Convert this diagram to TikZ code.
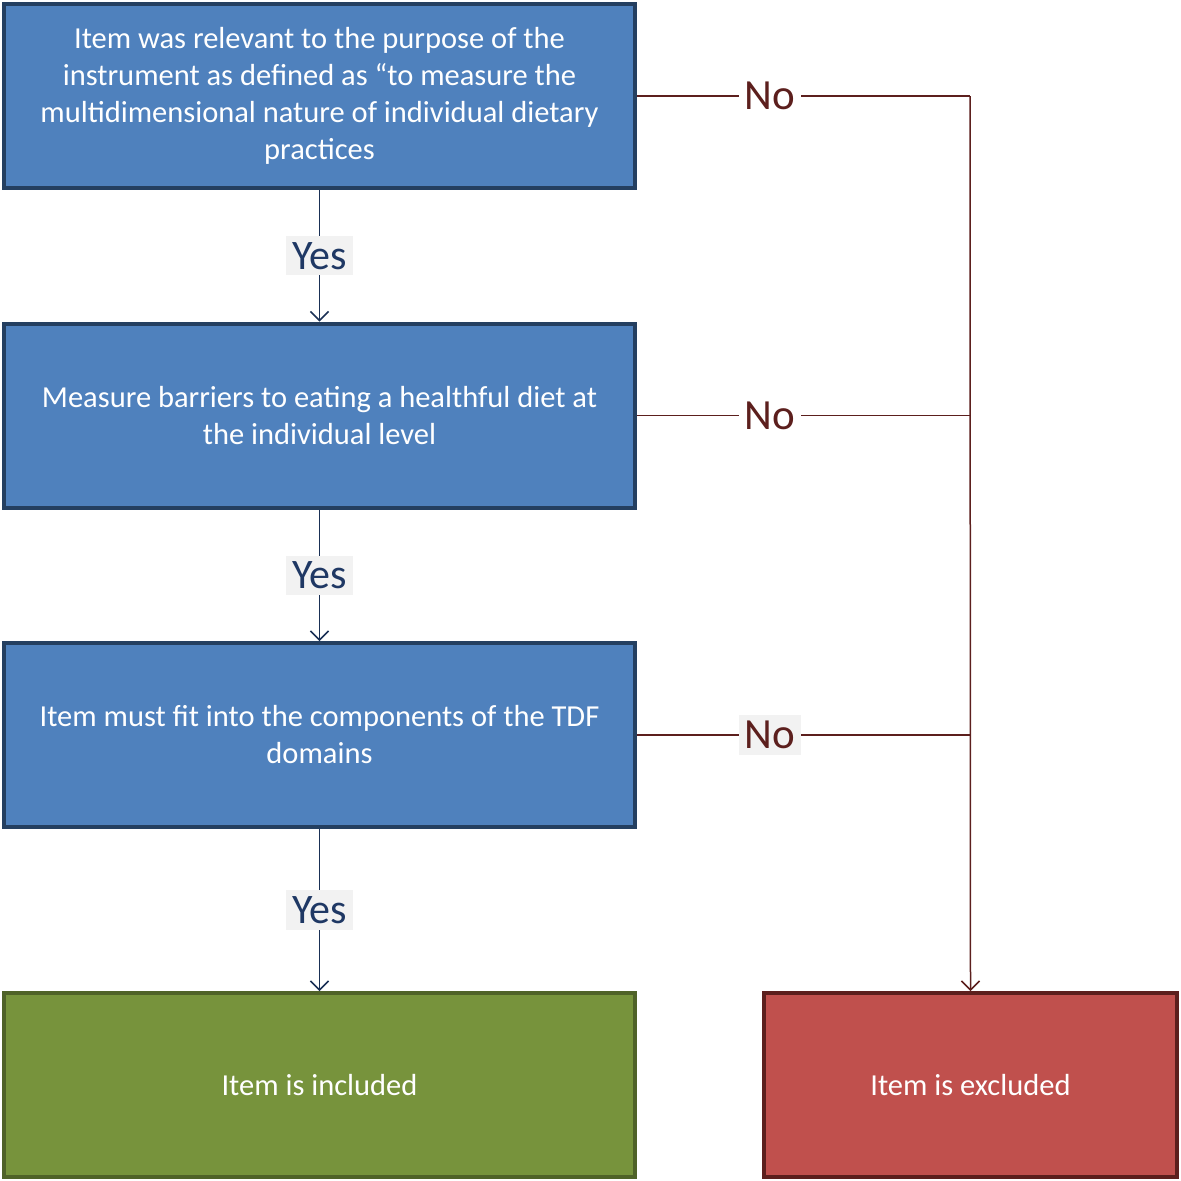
\documentclass[tikz,border=0pt]{standalone}
\usepackage{fontspec}
\setmainfont{Carlito}
\usetikzlibrary{arrows.meta}
\definecolor{boxblue}{HTML}{4F81BD}
\definecolor{edgeblue}{HTML}{243F60}
\definecolor{boxgreen}{HTML}{77933C}
\definecolor{edgegreen}{HTML}{4F6228}
\definecolor{boxred}{HTML}{C0504D}
\definecolor{edgered}{HTML}{5C1F1D}
\definecolor{yestext}{HTML}{1F3864}
\definecolor{notext}{HTML}{5C1F1D}
\definecolor{tagbg}{HTML}{F2F2F2}

\begin{document}
\begin{tikzpicture}[x=1pt, y=-1pt,
	qbox/.style={draw=edgeblue, fill=boxblue, line width=4pt, minimum width=631pt, minimum height=184pt, text=white, align=center, font=\fontsize{30.5}{37}\selectfont},
	inbox/.style={qbox, draw=edgegreen, fill=boxgreen},
	outbox/.style={qbox, draw=edgered, fill=boxred, minimum width=413pt},
	yesline/.style={draw=yestext!85!black, line width=1.5pt, -{Straight Barb[length=9pt, width=18pt, line width=1.5pt]}},
	noline/.style={draw=notext, line width=1.5pt},
	yestag/.style={fill=tagbg, text=yestext, inner sep=6pt, font=\fontsize{42}{44}\selectfont},
	notag/.style={fill=white, text=notext, inner sep=6pt, font=\fontsize{43}{45}\selectfont}]
				\useasboundingbox (0,0) rectangle (1181,1181);
				% decision boxes
				\node[qbox] (q1)at(319.5, 96) {Item was relevant to the purpose of the\\instrument as defined as ``to measure the\\multidimensional nature of individual dietary\\practices};
				\node[qbox] (q2)at(319.5, 415.5) {Measure barriers to eating a healthful diet at\\the individual level};
				\node[qbox] (q3)at(319.5, 735) {Item must fit into the components of the TDF\\domains};
				% outcomes
				\node[inbox] (in)at(319.5, 1085) {Item is included};
				\node[outbox] (out)at(970.5, 1085) {Item is excluded};
				\coordinate (c1)at(970, 96);
				\coordinate (c2)at(970, 415.5);
				\coordinate (c3)at(970, 735);
				% yes arrows
				\draw[yesline] (q1) -- node[yestag] {Yes} (q2);
				\draw[yesline] (q2) -- node[yestag] {Yes} (q3);
				\draw[yesline] (q3) -- node[yestag] {Yes} (in);
				% no lines
				\draw[noline] (q1.east) -- node[notag, pos=0.4] {No} (c1);
				\draw[noline] (q2.east) -- node[notag, pos=0.4] {No} (c2);
				\draw[noline] (q3.east) -- node[notag, fill=tagbg, pos=0.4] {No} (c3);
				\draw[noline, -{Straight Barb[length=9pt, width=18pt, line width=1.5pt]}] (c1) -- (out.north);
			\end{tikzpicture}
\end{document}
